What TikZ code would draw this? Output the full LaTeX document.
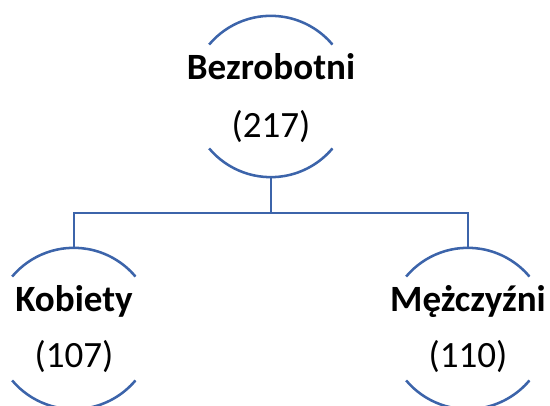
\documentclass[tikz,border=0pt]{standalone}
\usepackage{fontspec}
\setmainfont{Carlito}
\usetikzlibrary{positioning}
\definecolor{linkblue}{HTML}{3C64AA}
\tikzset{
  unit/.style={circle, minimum size=120.75pt, inner sep=0pt},
  ring/.style={draw=linkblue, line width=1.9pt},
  title/.style={anchor=base, font=\fontsize{27.8}{32}\selectfont\bfseries},
  count/.style={anchor=base, font=\fontsize{27.8}{32}\selectfont},
}
\begin{document}
\begin{tikzpicture}[x=0.75pt,y=0.75pt]
        \useasboundingbox (0,0) rectangle (550,406);
        % circles
        \node[unit] (bez) at (271,309.5) {};
        \node[unit] (kob) at (74,77.5) {};
        \node[unit] (mez) at (468,77.5) {};
        \foreach \c in {bez,kob,mez} {
          \draw[ring] (\c.140) arc[start angle=140, end angle=40, radius=60.375pt];
          \draw[ring] (\c.220) arc[start angle=220, end angle=320, radius=60.375pt];
        }

        % texts
        \node[title] (bezt) at ([yshift=12.4pt]bez.center) {Bezrobotni};
        \node[count] (bezn) at ([yshift=-30.4pt]bez.center) {(217)};
        \node[title] (kobt) at ([yshift=12.8pt]kob.center) {Kobiety};
        \node[count] (kobn) at ([yshift=-29.6pt]kob.center) {(107)};
        \node[title] (mezt) at ([yshift=12.8pt]mez.center) {Mężczyźni};
        \node[count] (mezn) at ([yshift=-29.6pt]mez.center) {(110)};

        % connectors
        \coordinate (hub) at (bez.south |- 0,193);
        \draw[ring] (bez.south) -- (hub);
        \draw[ring] (kob.north) |- (hub) -| (mez.north);
      \end{tikzpicture}
\end{document}
